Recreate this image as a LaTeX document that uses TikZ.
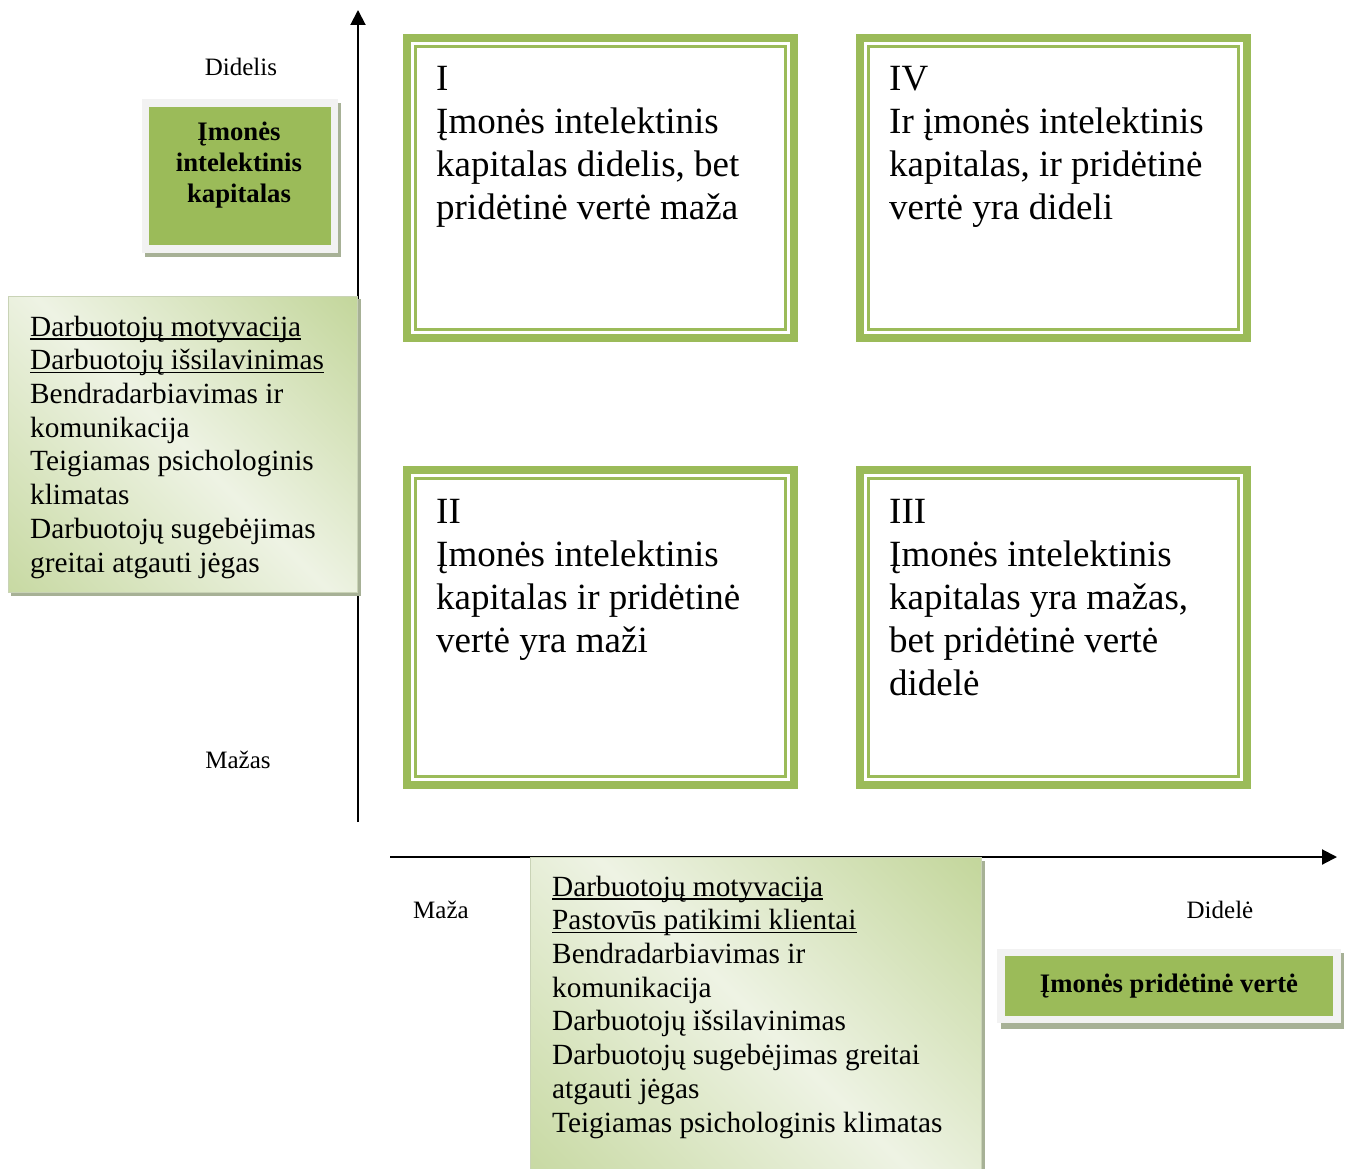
\documentclass[tikz,border=0pt]{standalone}
\usepackage{fontspec}
\setmainfont{Liberation Serif}
\usetikzlibrary{arrows.meta}

\definecolor{leaf}{HTML}{9BBB59}
\definecolor{paper}{HTML}{F2F2F2}
\definecolor{shadowgreen}{HTML}{A7B196}
\definecolor{gradDark}{HTML}{C3D69B}
\definecolor{gradLight}{HTML}{EEF3E4}
\definecolor{gradEdge}{HTML}{C9D3B6}

% underline that crosses the descenders, as a word processor draws it
\newsavebox\ulbox
\newcommand\ulined[1]{\sbox\ulbox{#1}\rlap{\rule[-3.6pt]{\wd\ulbox}{1.8pt}}\usebox\ulbox}

% panel with a diagonal gradient: green at the top right and bottom left corners,
% pale band along the other diagonal. Args: x1,y1,x2,y2 (top left, bottom right)
\newcommand\gradpanel[4]{%
  \fill[shadowgreen] (#1+3,#2+3) rectangle (#3+3,#4+3);
  \begin{scope}
    \clip (#1,#2) rectangle (#3,#4);
    \pgfmathsetmacro\pcx{(#1+#3)/2}
    \pgfmathsetmacro\pcy{(#2+#4)/2}
    \pgfmathsetmacro\phalf{(#3-#1+#4-#2)/2.828}
    \shade[transform canvas={rotate around={-45:(\pcx,\pcy)}},
           top color=gradDark, bottom color=gradDark!90!gradLight, middle color=gradLight]
      (\pcx-\phalf,\pcy-\phalf) rectangle (\pcx+\phalf,\pcy+\phalf);
  \end{scope}
  \draw[gradEdge, line width=0.8pt] (#1,#2) rectangle (#3,#4);
}

\tikzset{
  quadbox/.style={draw=leaf, line width=8.3pt, fill=white, inner sep=0pt, outer sep=0pt,
                  minimum width=386.7pt},
  quadinner/.style={draw=leaf, line width=2.8pt},
  % multi-line texts are placed by the baseline of their last line
  quadtext/.style={anchor=base west, align=left, inner sep=0pt,
                   font=\fontsize{37}{43}\selectfont},
  listtext/.style={anchor=base west, align=left, inner sep=0pt,
                   font=\fontsize{29.3}{33.7}\selectfont},
  axislabel/.style={anchor=base, inner sep=0pt, font=\fontsize{25}{29}\selectfont},
  tagtext/.style={align=center, inner sep=0pt, font=\fontsize{26.7}{31}\selectfont\bfseries},
  tagfill/.style={fill=leaf, inner sep=0pt, outer sep=0pt},
  axis/.style={line width=2pt, -{Triangle[length=15pt,width=15pt]}},
}

\begin{document}
\begin{tikzpicture}[x=1pt, y=-1pt]
  \useasboundingbox (0,0) rectangle (1351,1169);
  \fill[white] (0,0) rectangle (1351,1169);

  % axes
  \coordinate (ybottom) at (358,822);
  \coordinate (ytop) at (358,10);
  \coordinate (xleft) at (390,857);
  \coordinate (xright) at (1337,857);
  \draw[axis] (ybottom) -- (ytop);
  \draw[axis] (xleft) -- (xright);

  % axis end labels
  \node[axislabel] (yhigh) at (241,76) {Didelis};
  \node[axislabel] (ylow) at (238,768) {Mažas};
  \node[axislabel] (xlow) at (441,918) {Maža};
  \node[axislabel] (xhigh) at (1220,918) {Didelė};

  % quadrants
  \node[quadbox, minimum height=299.7pt] (qI) at (600.5,188) {};
  \node[quadbox, minimum height=299.7pt] (qIV) at (1053.5,188) {};
  \node[quadbox, minimum height=314.7pt] (qII) at (600.5,627.5) {};
  \node[quadbox, minimum height=314.7pt] (qIII) at (1053.5,627.5) {};
  \foreach \q in {qI,qIV,qII,qIII}
    \draw[quadinner] ([shift={(8.35,8.35)}]\q.north west) rectangle ([shift={(-8.35,-8.35)}]\q.south east);

  \node[quadtext] (tI) at (436,219) {I\\Įmonės intelektinis\\kapitalas didelis, bet\\pridėtinė vertė maža};
  \node[quadtext] (tIV) at (889,219) {IV\\Ir įmonės intelektinis\\kapitalas, ir pridėtinė\\vertė yra dideli};
  \node[quadtext] (tII) at (436,652) {II\\Įmonės intelektinis\\kapitalas ir pridėtinė\\vertė yra maži};
  \node[quadtext] (tIII) at (889,695) {III\\Įmonės intelektinis\\kapitalas yra mažas,\\bet pridėtinė vertė\\didelė};

  % axis title: intellectual capital
  \fill[shadowgreen] (144.5,103) rectangle (340.7,256.7);
  \fill[paper] (141.5,99) rectangle (337.5,253);
  \node[tagfill, minimum width=182pt, minimum height=138.3pt] (capbox) at (240,175.9) {};
  \node[tagtext] (captext) at (239,165) {Įmonės\\intelektinis\\kapitalas};

  % axis title: added value
  \fill[shadowgreen] (1000.5,952.5) rectangle (1344,1029);
  \fill[paper] (997,949) rectangle (1340.7,1023.3);
  \node[tagfill, minimum width=328.3pt, minimum height=60pt] (valbox) at (1169.2,986) {};
  \node[tagtext] (valtext) at (1169,986) {Įmonės pridėtinė vertė};

  % factor lists
  \gradpanel{8}{296}{357.5}{592.5}
  \node[listtext] (capfactors) at (30,572) {\ulined{Darbuotojų motyvacija}\\\ulined{Darbuotojų išsilavinimas}\\Bendradarbiavimas ir\\komunikacija\\Teigiamas psichologinis\\klimatas\\Darbuotojų sugebėjimas\\greitai atgauti jėgas};

  \gradpanel{530.5}{857.5}{981.5}{1175}
  \node[listtext] (valfactors) at (552,1132) {\ulined{Darbuotojų motyvacija}\\\ulined{Pastovūs patikimi klientai}\\Bendradarbiavimas ir\\komunikacija\\Darbuotojų išsilavinimas\\Darbuotojų sugebėjimas greitai\\atgauti jėgas\\Teigiamas psichologinis klimatas};
\end{tikzpicture}
\end{document}
